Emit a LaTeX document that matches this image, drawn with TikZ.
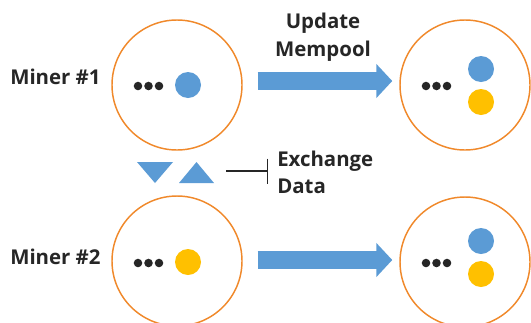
\documentclass[tikz,border=0pt]{standalone}
\usepackage{fontspec}
\setmainfont{Open Sans}
\usetikzlibrary{arrows.meta}
\definecolor{PoolOrange}{HTML}{F0892B}
\definecolor{TxBlue}{HTML}{5B9BD5}
\definecolor{TxYellow}{HTML}{FFC000}
\definecolor{InkGray}{HTML}{262626}

\begin{document}
\begin{tikzpicture}[x=0.75pt,y=-0.75pt,
  pool/.style={circle,draw=PoolOrange,line width=1.1pt,minimum size=97.5pt,inner sep=0pt},
  tx/.style={circle,fill=#1,minimum size=19.5pt,inner sep=0pt},
  caption/.style={text=InkGray,font=\fontsize{15.3}{20.5}\selectfont\bfseries,inner sep=0pt},
  fatarrow/.style={TxBlue,line width=13.5pt,-{Triangle[length=12pt,width=25pt]}}]
  \clip (0,0) rectangle (531,322);
  % mempools
  \node[pool] (p11) at (177,85) {};
  \node[pool] (p12) at (465,85) {};
  \node[pool] (p21) at (177,261) {};
  \node[pool] (p22) at (465,262) {};
  \foreach \y in {86,263} {
    \foreach \x in {138,148.5,159,426,436.5,447}
      \fill[InkGray] (\x,\y) circle[radius=3.2pt];
  }
  \node[tx=TxBlue] (t11) at (188,85) {};
  \node[tx=TxBlue] (t12a) at (481,69) {};
  \node[tx=TxYellow] (t12b) at (481,102) {};
  \node[tx=TxYellow] (t21) at (188,262) {};
  \node[tx=TxBlue] (t22a) at (481,241) {};
  \node[tx=TxYellow] (t22b) at (481,274) {};
  % labels
  \node[caption,anchor=west] (m1) at (10,77) {Miner \#1};
  \node[caption,anchor=west] (m2) at (10,257) {Miner \#2};
  \node[caption,align=center,font=\fontsize{15.3}{21}\selectfont\bfseries] (um) at (323,37) {Update\\Mempool};
  \node[caption,align=left,anchor=west] (xd) at (277,172.5) {Exchange\\Data};
  % update arrows
  \draw[fatarrow] ([shift={(15,-4)}]p11.east) -- ([shift={(-7,-4)}]p12.west);
  \draw[fatarrow] ([shift={(15,-1)}]p21.east) -- ([shift={(-7,-2)}]p22.west);
  % exchange
  \fill[TxBlue] (137,162) -- (173,162) -- (155,183) -- cycle;
  \fill[TxBlue] (179,183) -- (214,183) -- (196.5,162) -- cycle;
  \coordinate (xs) at (226,171);
  \draw[InkGray,line width=1.1pt,-{Bar[width=18.75pt]}] (xs) -- ([xshift=-6.75pt]xs -| xd.west);
\end{tikzpicture}
\end{document}
